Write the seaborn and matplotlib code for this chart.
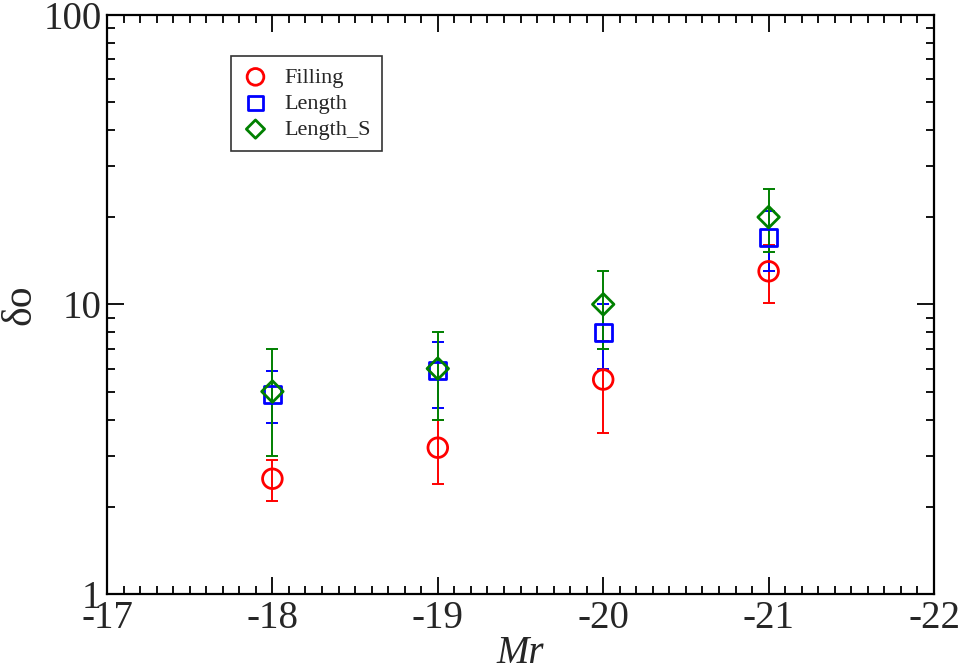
import numpy as np
import matplotlib
matplotlib.use("Agg")
import matplotlib.pyplot as plt
import seaborn as sns
import pandas as pd
from matplotlib.ticker import MultipleLocator, LogLocator, NullFormatter

# data
mr = [-18, -19, -20, -21]
names = ["Filling", "Length", "Length_S"]
fill_y = [2.5, 3.2, 5.5, 13.0]
fill_lo = [2.1, 2.4, 3.6, 10.1]
fill_hi = [2.9, 4.0, 7.45, 16.0]
len_y = [4.9, 5.9, 8.0, 17.0]
len_lo = [3.9, 4.4, 6.0, 13.05]
len_hi = [5.9, 7.4, 10.0, 21.0]
lens_y = [5.0, 6.0, 10.0, 20.0]
lens_lo = [3.0, 4.0, 7.0, 15.1]
lens_hi = [7.0, 8.0, 13.0, 25.0]

sns.set_theme(style="ticks")
plt.rcParams['font.family'] = ['Liberation Serif', 'DejaVu Serif']
plt.rcParams['axes.unicode_minus'] = False

rows = []
for nm, ys, lo, hi in zip(names, [fill_y, len_y, lens_y], [fill_lo, len_lo, lens_lo], [fill_hi, len_hi, lens_hi]):
    for x, y, l, h in zip(mr, ys, lo, hi):
        rows.append({'Mr': x, 'val': y, 'lo': l, 'hi': h, 'kind': nm})
df = pd.DataFrame(rows)

colors = {"Filling": "#ff0000", "Length": "#0000ff", "Length_S": "#008000"}
markers = {"Filling": "o", "Length": "s", "Length_S": "D"}
msize = {"Filling": 200, "Length": 150, "Length_S": 120}

fig = plt.figure(figsize=(9.63, 6.67), dpi=100)
ax = fig.add_axes([0.1111, 0.1094, 0.8588, 0.8687])

for nm in names:
    d = df[df['kind'] == nm]
    ax.errorbar(d['Mr'], d['val'], yerr=[d['val'] - d['lo'], d['hi'] - d['val']],
                fmt='none', ecolor=colors[nm], elinewidth=1.4, capsize=4, capthick=1.4, zorder=2)
    sns.scatterplot(data=d, x='Mr', y='val', marker=markers[nm], s=msize[nm],
                    facecolors='none', edgecolor=colors[nm], linewidth=2, label=nm, ax=ax, zorder=3)

ax.set_yscale('log')
ax.set_ylim(1, 100)
ax.set_xlim(-17, -22)
ax.set_yticks([1, 10, 100])
ax.set_yticklabels(['1', '10', '100'])
ax.yaxis.set_minor_locator(LogLocator(base=10, subs=np.arange(2, 10)))
ax.yaxis.set_minor_formatter(NullFormatter())
ax.set_xticks([-17, -18, -19, -20, -21, -22])
ax.xaxis.set_minor_locator(MultipleLocator(0.1))

ax.tick_params(which='both', direction='in', top=True, right=True, width=1.3, color='black')
ax.tick_params(which='major', length=12, labelsize=28, pad=4)
ax.tick_params(which='minor', length=6)
for s in ax.spines.values():
    s.set_linewidth(1.6)
    s.set_color('black')

ax.set_xlabel('Mr', fontsize=28, style='italic', labelpad=-1)
ax.set_ylabel('δo', fontsize=30, labelpad=3)

leg = ax.legend(loc='upper left', bbox_to_anchor=(0.15, 0.9285), borderaxespad=0, fontsize=16,
                frameon=True, fancybox=False, edgecolor='black', borderpad=0.5,
                handlelength=1.2, handletextpad=0.7, labelspacing=0.25, markerscale=0.85)
leg.get_frame().set_linewidth(1.2)

fig.savefig('out.png', dpi=100)
